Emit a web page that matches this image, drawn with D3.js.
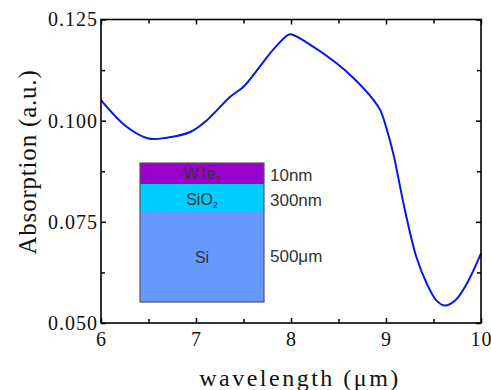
<!DOCTYPE html>
<html>
<head>
<meta charset="utf-8">
<script src="https://cdn.jsdelivr.net/npm/d3@7"></script>
<style>
  body { margin: 0; background: #fff; }
  svg { display: block; }
</style>
</head>
<body>
<div id="chart"></div>
<script>
// wavelength (um) and absorption
const wavelength = [6.00, 6.27, 6.50, 6.69, 6.94, 7.11, 7.36, 7.50, 7.67, 7.81, 7.97, 8.01, 8.18, 8.48, 8.66, 8.87, 8.94, 9.01, 9.08, 9.20, 9.32, 9.43, 9.53, 9.62, 9.73, 9.85, 10.00];
const absorption = [0.1051, 0.0985, 0.0956, 0.0958, 0.0972, 0.1000, 0.1059, 0.1084, 0.1133, 0.1175, 0.1212, 0.1213, 0.1191, 0.1142, 0.1105, 0.1051, 0.1026, 0.0977, 0.0915, 0.0778, 0.0663, 0.0597, 0.0556, 0.0543, 0.0556, 0.0597, 0.0672];

const xTicks = [6, 7, 8, 9, 10];
const xMinor = [6.5, 7.5, 8.5, 9.5];
const yTicks = [0.050, 0.075, 0.100, 0.125];
const yMinor = [0.0625, 0.0875, 0.1125];

// inset layer stack
const layerNames = ['WTe', 'SiO', 'Si'];
const layerSubs = ['2', '2', ''];
const layerThickness = ['10nm', '300nm', '500\u03bcm'];
const layerColors = ['#9900cc', '#00ccff', '#6699ff'];

const W = 491, H = 390;
const margin = { top: 19.5, right: 10, bottom: 67, left: 101 };
const width = 481 - margin.left;
const height = 323 - margin.top;

const svg = d3.select('#chart')
  .append('svg')
  .attr('width', W)
  .attr('height', H);

const g = svg.append('g')
  .attr('transform', `translate(${margin.left},${margin.top})`);

const x = d3.scaleLinear().domain([6, 10]).range([0, width]);
const y = d3.scaleLinear().domain([0.05, 0.125]).range([height, 0]);

const serif = '"Liberation Serif", "Times New Roman", serif';

function styleAxis(sel) {
  sel.select('.domain').remove();
  sel.selectAll('line').attr('stroke', '#000').attr('stroke-width', 1.5);
  sel.selectAll('text')
    .attr('fill', '#111')
    .style('font-family', serif)
    .style('font-size', '20px')
    .style('letter-spacing', '1px');
}

// major axes
g.append('g')
  .attr('transform', `translate(0,${height})`)
  .call(d3.axisBottom(x).tickValues(xTicks).tickFormat(d3.format('d')).tickSize(-5).tickPadding(9))
  .call(styleAxis);

g.append('g')
  .call(d3.axisLeft(y).tickValues(yTicks).tickFormat(d3.format('.3f')).tickSize(-5).tickPadding(3))
  .call(styleAxis);

g.append('g')
  .call(d3.axisTop(x).tickValues(xTicks).tickFormat('').tickSize(-5))
  .call(styleAxis);

g.append('g')
  .attr('transform', `translate(${width},0)`)
  .call(d3.axisRight(y).tickValues(yTicks).tickFormat('').tickSize(-5))
  .call(styleAxis);

// minor ticks
g.append('g')
  .attr('transform', `translate(0,${height})`)
  .call(d3.axisBottom(x).tickValues(xMinor).tickFormat('').tickSize(-4))
  .call(styleAxis);
g.append('g')
  .call(d3.axisTop(x).tickValues(xMinor).tickFormat('').tickSize(-4))
  .call(styleAxis);
g.append('g')
  .call(d3.axisLeft(y).tickValues(yMinor).tickFormat('').tickSize(-4))
  .call(styleAxis);
g.append('g')
  .attr('transform', `translate(${width},0)`)
  .call(d3.axisRight(y).tickValues(yMinor).tickFormat('').tickSize(-4))
  .call(styleAxis);

// curve
const points = wavelength.map((w, i) => [w, absorption[i]]);
const line = d3.line()
  .x((d) => x(d[0]))
  .y((d) => y(d[1]))
  .curve(d3.curveCatmullRom.alpha(0.5));

g.append('path')
  .datum(points)
  .attr('fill', 'none')
  .attr('stroke', '#0a14f0')
  .attr('stroke-width', 2)
  .attr('d', line);

// frame
g.append('rect')
  .attr('width', width)
  .attr('height', height)
  .attr('fill', 'none')
  .attr('stroke', '#000')
  .attr('stroke-width', 1.6);

// inset layer schematic
const inset = svg.append('g').attr('transform', 'translate(140,163)');
const insetW = 124;
const layerTops = [0, 21, 48, 139];
const sans = '"Liberation Sans", Arial, sans-serif';

layerNames.forEach((name, i) => {
  const y0 = layerTops[i], y1 = layerTops[i + 1];
  inset.append('rect')
    .attr('x', 0).attr('y', y0)
    .attr('width', insetW).attr('height', y1 - y0)
    .attr('fill', layerColors[i]);
});
inset.append('rect')
  .attr('width', insetW).attr('height', layerTops[3])
  .attr('fill', 'none')
  .attr('stroke', '#555')
  .attr('stroke-width', 1.2);

const nameBase = [16, 42, 100];
const thickBase = [18, 43, 99];
layerNames.forEach((name, i) => {
  const t = inset.append('text')
    .attr('x', insetW / 2)
    .attr('y', nameBase[i])
    .attr('text-anchor', 'middle')
    .attr('fill', '#333')
    .style('font-family', sans)
    .style('font-size', '16px')
    .text(name);
  if (layerSubs[i]) {
    t.append('tspan')
      .attr('dy', 3)
      .style('font-size', '9px')
      .text(layerSubs[i]);
  }
  inset.append('text')
    .attr('x', insetW + 6)
    .attr('y', thickBase[i])
    .attr('fill', '#333')
    .style('font-family', sans)
    .style('font-size', '17px')
    .text(layerThickness[i]);
});

// axis titles
svg.append('text')
  .attr('x', 300)
  .attr('y', 386)
  .attr('text-anchor', 'middle')
  .attr('fill', '#111')
  .style('font-family', serif)
  .style('font-size', '24px')
  .style('letter-spacing', '2.5px')
  .text('wavelength (\u03bcm)');

svg.append('text')
  .attr('transform', 'translate(36,162) rotate(-90)')
  .attr('text-anchor', 'middle')
  .attr('fill', '#111')
  .style('font-family', serif)
  .style('font-size', '25px')
  .style('letter-spacing', '0.8px')
  .text('Absorption (a.u.)');
</script>
</body>
</html>
